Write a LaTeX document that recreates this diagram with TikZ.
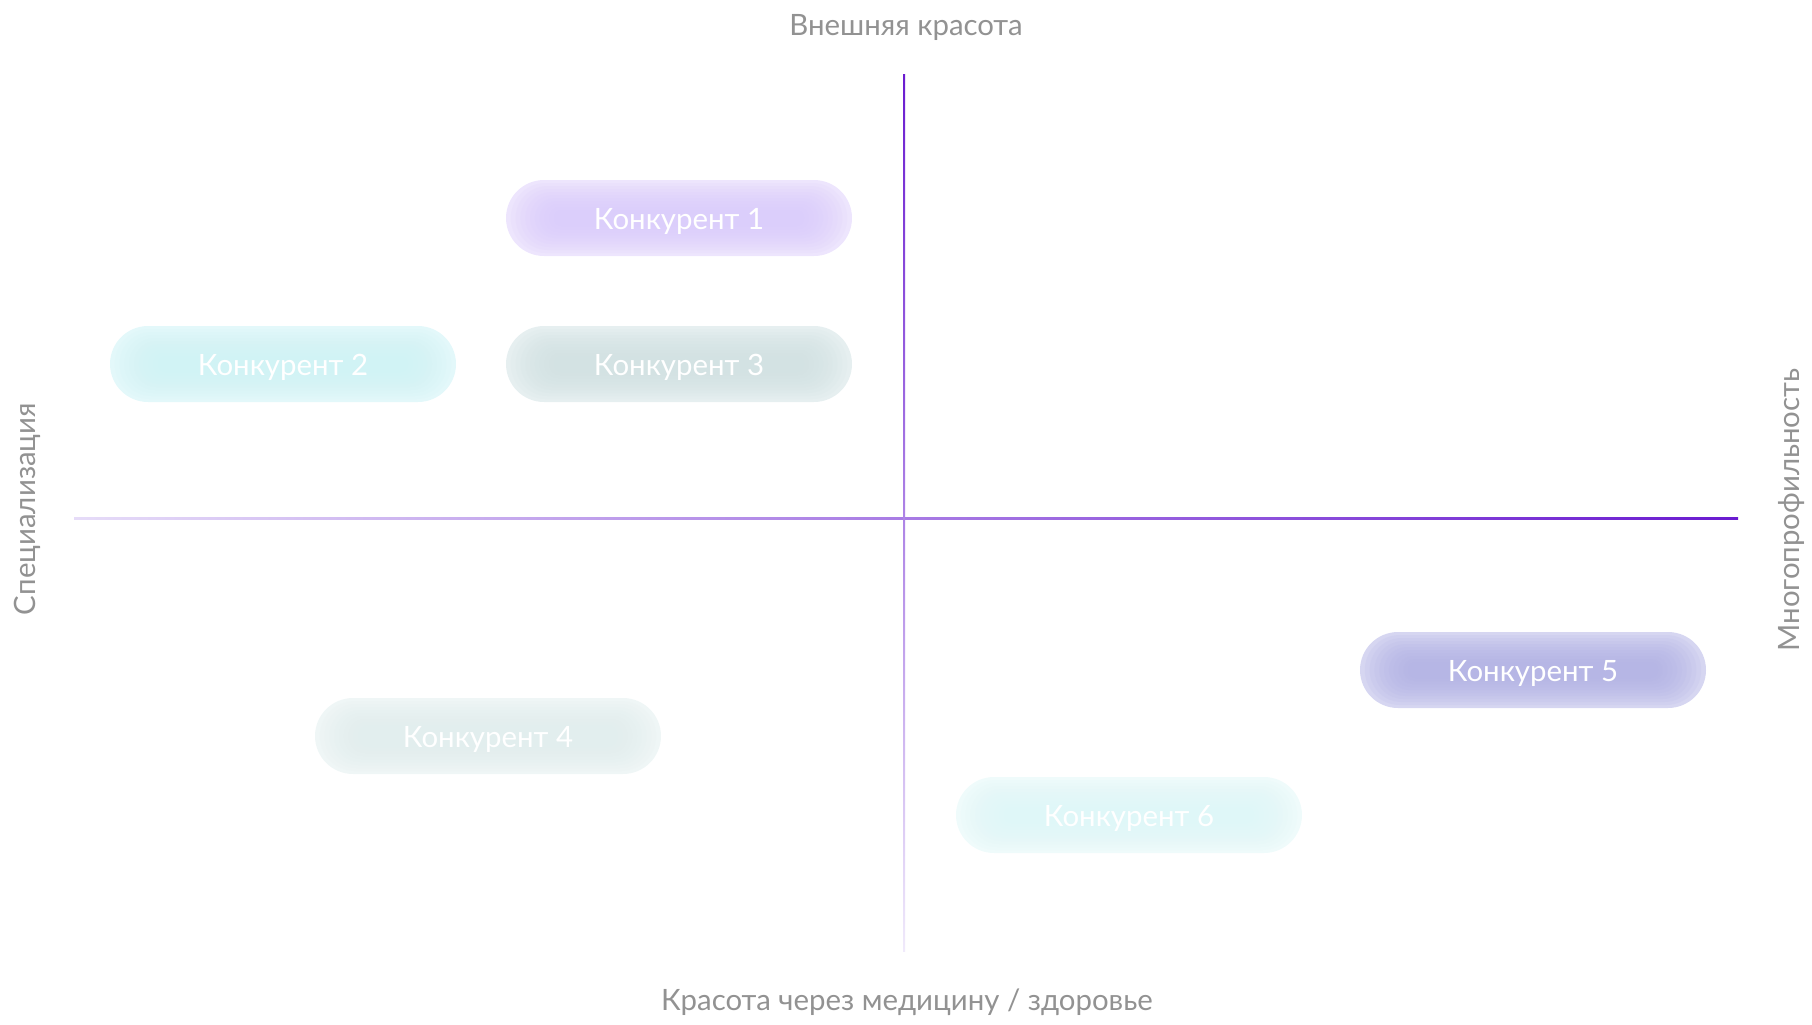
\documentclass[tikz,border=0pt]{standalone}
\usepackage{fontspec}
\setmainfont{Lato}
\usetikzlibrary{calc}

\definecolor{axisdeep}{HTML}{6A1BD0}
\definecolor{axispale}{HTML}{E6DCF8}
\definecolor{labelgray}{HTML}{929292}
\definecolor{violetedge}{HTML}{EDE5FD}
\definecolor{violetcore}{HTML}{DACCFB}
\definecolor{cyanedge}{HTML}{E3F8FA}
\definecolor{cyancore}{HTML}{D0F3F5}
\definecolor{slateedge}{HTML}{E6EFF0}
\definecolor{slatecore}{HTML}{D2E2E3}
\definecolor{mistedge}{HTML}{EFF6F6}
\definecolor{mistcore}{HTML}{E2EEEE}
\definecolor{indigoedge}{HTML}{D6D6F1}
\definecolor{indigocore}{HTML}{B2B2E5}
\definecolor{iceedge}{HTML}{EFFBFB}
\definecolor{icecore}{HTML}{DFF7F8}

\tikzset{
  axislabel/.style={text=labelgray, font=\fontsize{14.7}{18}\selectfont, anchor=base},
  pill/.style 2 args={rounded corners=19pt, minimum width=173pt, minimum height=38pt,
    inner sep=0pt, text height=11pt, text depth=0pt, fill=#1, text=white,
    font=\fontsize{14.7}{18}\selectfont,
    path picture={
      \foreach \k [evaluate=\k as \r using 19-\k] in {1.5,3,...,15}
        \fill[#2, opacity=0.15, rounded corners=\r pt]
          ($(path picture bounding box.south west)+(1.6*\k pt,\k pt)$) rectangle
          ($(path picture bounding box.north east)-(1.6*\k pt,\k pt)$);
    }}
}

\begin{document}
\begin{tikzpicture}[x=0.5pt,y=-0.5pt]
\useasboundingbox (0,0) rectangle (1812,1024);
% axes
\coordinate (west) at (74,518);
\coordinate (east) at (1738,518);
\coordinate (north) at (904,74);
\coordinate (south) at (904,951);
\shade[left color=axispale, right color=axisdeep] ($(west)+(0,-1)$) rectangle ($(east)+(0,1)$);
\shade[top color=axisdeep, bottom color=axispale!60] ($(north)+(-1,0)$) rectangle ($(south)+(1,0)$);
% axis captions
\node[axislabel] (top) at (906,35) {Внешняя красота};
\node[axislabel] (bottom) at (907,1010) {Красота через медицину / здоровье};
\node[axislabel, rotate=90] (left) at (35,509) {Специализация};
\node[axislabel, rotate=90] (right) at (1799,510) {Многопрофильность};
% competitors
\node[pill={violetedge}{violetcore}] (c1) at (679,218) {Конкурент 1};
\node[pill={cyanedge}{cyancore}] (c2) at (283,364) {Конкурент 2};
\node[pill={slateedge}{slatecore}] (c3) at (679,364) {Конкурент 3};
\node[pill={mistedge}{mistcore}] (c4) at (488,736) {Конкурент 4};
\node[pill={indigoedge}{indigocore}] (c5) at (1533,670) {Конкурент 5};
\node[pill={iceedge}{icecore}] (c6) at (1129,815) {Конкурент 6};
\end{tikzpicture}
\end{document}
